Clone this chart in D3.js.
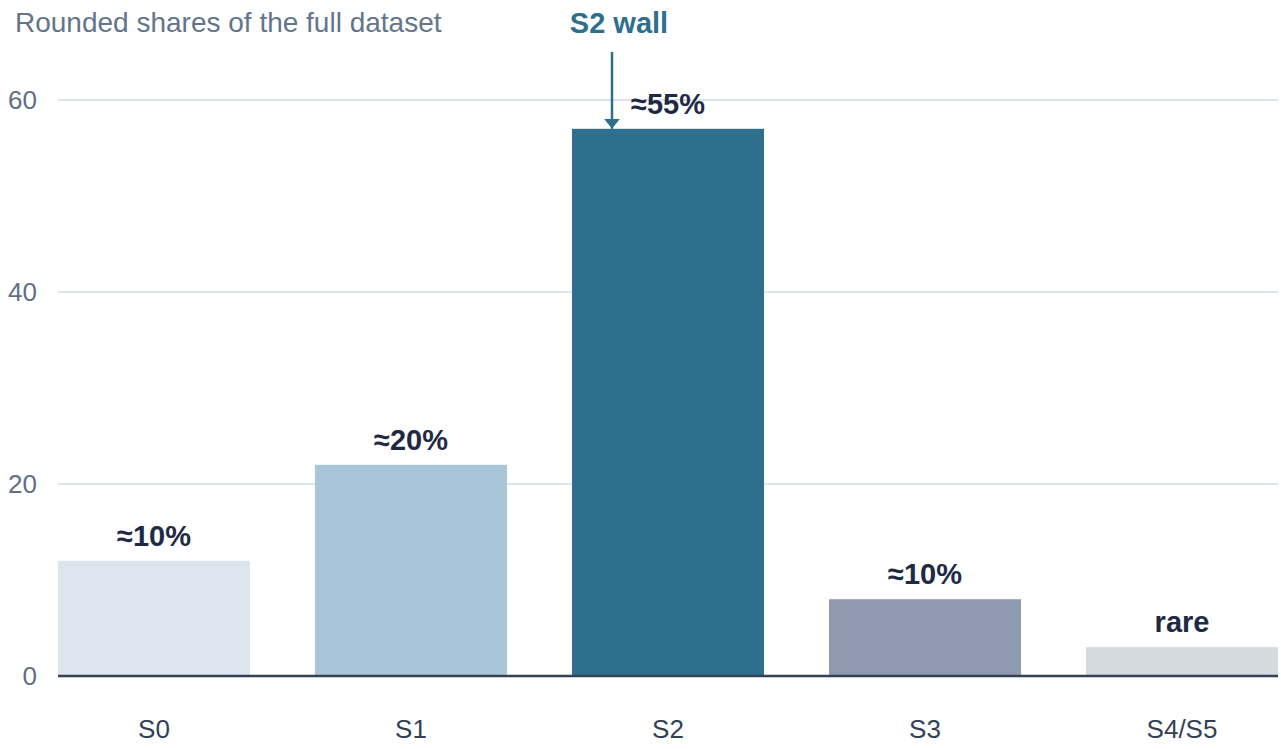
<!DOCTYPE html>
<html>
<head>
<meta charset="utf-8">
<script src="https://cdn.jsdelivr.net/npm/d3@7"></script>
<style>
  body { margin: 0; background: #fff; }
  svg text { font-family: "Liberation Sans", Arial, sans-serif; }
</style>
</head>
<body>
<div id="chart"></div>
<script>
// data
var stages = ["S0", "S1", "S2", "S3", "S4/S5"]
var shares = [12, 22, 57, 8, 3]
var barLabels = ["≈10%", "≈20%", "≈55%", "≈10%", "rare"]
var barColors = ["#dde6ef", "#a9c6d8", "#2e6f8e", "#8f9ab0", "#d5d9e0"]
var yTicks = [0, 20, 40, 60]

var width = 1281,
    height = 749

var svg = d3.select("#chart")
  .append("svg")
    .attr("width", width)
    .attr("height", height)

var x = d3.scaleBand()
  .domain(stages)
  .range([58, 1278])
  .paddingInner(0.253)
  .paddingOuter(0)

var y = d3.scaleLinear()
  .domain([0, 60])
  .range([676, 100])

// gridlines
svg.selectAll(".grid")
  .data(yTicks.filter(function(d) { return d > 0 }))
  .enter()
  .append("line")
    .attr("x1", 58)
    .attr("x2", 1278)
    .attr("y1", function(d) { return y(d) })
    .attr("y2", function(d) { return y(d) })
    .attr("stroke", "#dde3ea")
    .attr("stroke-width", 2)

// y tick labels
svg.selectAll(".ytick")
  .data(yTicks)
  .enter()
  .append("text")
    .attr("x", 37)
    .attr("y", function(d) { return y(d) })
    .attr("dy", "0.36em")
    .attr("text-anchor", "end")
    .attr("fill", "#5f6f86")
    .style("font-size", "26px")
    .text(function(d) { return d })

// bars
svg.selectAll(".bar")
  .data(stages)
  .enter()
  .append("rect")
    .attr("x", function(d) { return x(d) })
    .attr("y", function(d, i) { return y(shares[i]) })
    .attr("width", x.bandwidth())
    .attr("height", function(d, i) { return y(0) - y(shares[i]) })
    .attr("fill", function(d, i) { return barColors[i] })

// baseline
svg.append("line")
  .attr("x1", 58)
  .attr("x2", 1278)
  .attr("y1", y(0))
  .attr("y2", y(0))
  .attr("stroke", "#334155")
  .attr("stroke-width", 2.5)

// value labels
svg.selectAll(".vlabel")
  .data(stages)
  .enter()
  .append("text")
    .attr("x", function(d) { return x(d) + x.bandwidth() / 2 })
    .attr("y", function(d, i) { return y(shares[i]) - 15 })
    .attr("text-anchor", "middle")
    .attr("fill", "#1e2a44")
    .style("font-size", "29px")
    .style("font-weight", "bold")
    .text(function(d, i) { return barLabels[i] })

// x labels
svg.selectAll(".xlabel")
  .data(stages)
  .enter()
  .append("text")
    .attr("x", function(d) { return x(d) + x.bandwidth() / 2 })
    .attr("y", 738)
    .attr("text-anchor", "middle")
    .attr("fill", "#334155")
    .style("font-size", "26px")
    .text(function(d) { return d })

// subtitle
svg.append("text")
  .attr("x", 15)
  .attr("y", 32)
  .attr("fill", "#64748b")
  .style("font-size", "28px")
  .text("Rounded shares of the full dataset")

// S2 wall annotation
var ax = x("S2") + 40
svg.append("defs").append("marker")
  .attr("id", "arrow")
  .attr("viewBox", "0 0 10 16")
  .attr("refX", 10)
  .attr("refY", 8)
  .attr("markerWidth", 10)
  .attr("markerHeight", 16)
  .attr("markerUnits", "userSpaceOnUse")
  .attr("orient", "auto")
  .append("path")
    .attr("d", "M0,0 L10,8 L0,16 Z")
    .attr("fill", "#2e6f8e")

svg.append("line")
  .attr("x1", ax)
  .attr("x2", ax)
  .attr("y1", 52)
  .attr("y2", y(shares[2]))
  .attr("stroke", "#2e6f8e")
  .attr("stroke-width", 2.5)
  .attr("marker-end", "url(#arrow)")

svg.append("text")
  .attr("x", ax + 7)
  .attr("y", 33)
  .attr("text-anchor", "middle")
  .attr("fill", "#2e6f8e")
  .style("font-size", "29px")
  .style("font-weight", "bold")
  .text("S2 wall")
</script>
</body>
</html>
